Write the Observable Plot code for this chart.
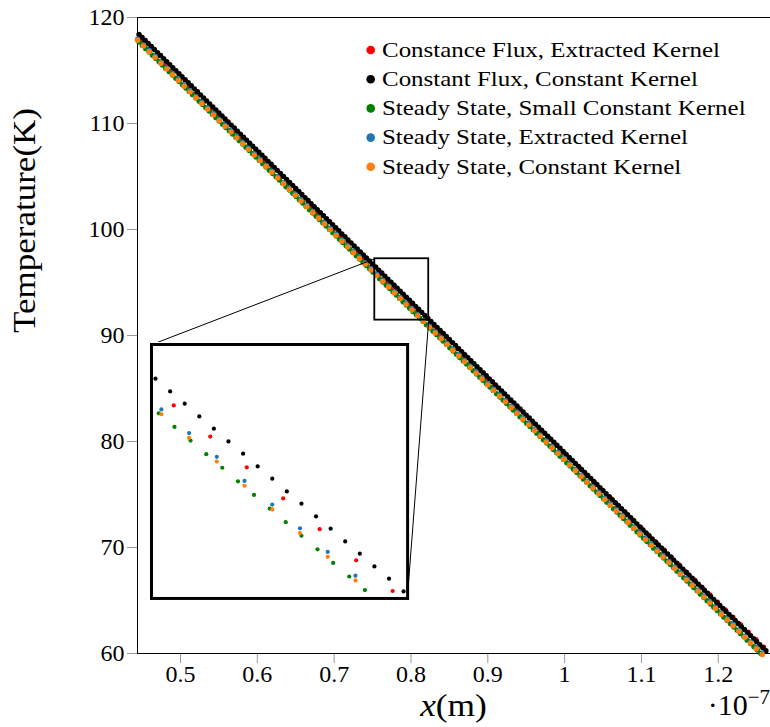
<!DOCTYPE html>
<html>
<head>
<meta charset="utf-8">
<script src="https://cdn.jsdelivr.net/npm/d3@7"></script>
<script src="https://cdn.jsdelivr.net/npm/@observablehq/plot@0.6"></script>
<style>
  html, body { margin: 0; padding: 0; background: white; }
  #wrap { position: relative; width: 770px; height: 727px; overflow: hidden; }
</style>
</head>
<body>
<div id="wrap"></div>
<script>
// ---------------- data (x in units of 1e-7 m, T in K) ----------------
const seriesNames = ["Constance Flux, Extracted Kernel", "Constant Flux, Constant Kernel",
  "Steady State, Small Constant Kernel", "Steady State, Extracted Kernel", "Steady State, Constant Kernel"];
const seriesColors = ["#ff0000", "#000000", "#008000", "#1f77b4", "#ff7f0e"];

const xTicks = [0.5, 0.6, 0.7, 0.8, 0.9, 1.0, 1.1, 1.2];
const xTickLabels = ["0.5", "0.6", "0.7", "0.8", "0.9", "1", "1.1", "1.2"];
const yTicks = [60, 70, 80, 90, 100, 110, 120];
const yTickLabels = ["60", "70", "80", "90", "100", "110", "120"];
const xDomain = [0.444, 1.268];
const yDomain = [60, 120];

// zoomed window and where the inset sits (main-chart data coordinates)
const zoomX = [0.7529, 0.8231];
const zoomT = [91.45, 97.24];
const insetBoxX = [0.4618, 0.7952];
const insetBoxT = [65.16, 89.12];

// Constance Flux, Extracted Kernel
const redX = [0.449,0.459,0.469,0.479,0.489,0.499,0.509,0.519,0.529,0.539,
0.549,0.559,0.569,0.579,0.589,0.599,0.609,0.619,0.629,0.639,
0.649,0.659,0.669,0.679,0.689,0.699,0.709,0.719,0.729,0.739,
0.749,0.759,0.769,0.779,0.789,0.799,0.809,0.819,0.829,0.839,
0.849,0.859,0.869,0.879,0.889,0.899,0.909,0.919,0.929,0.939,
0.949,0.959,0.969,0.979,0.989,0.999,1.009,1.019,1.029,1.039,
1.049,1.059,1.069,1.079,1.089,1.099,1.109,1.119,1.129,1.139,
1.149,1.159,1.169,1.179,1.189,1.199,1.209,1.219,1.229,1.239,
1.249,1.259];
const redT = [117.70,117.00,116.29,115.59,114.88,114.18,113.47,112.77,112.06,111.36,
110.65,109.95,109.24,108.54,107.83,107.13,106.42,105.72,105.01,104.31,
103.60,102.90,102.19,101.49,100.78,100.08,99.37,98.67,97.96,97.26,
96.55,95.85,95.14,94.44,93.73,93.03,92.32,91.62,90.91,90.21,
89.50,88.80,88.09,87.39,86.68,85.98,85.27,84.57,83.86,83.16,
82.45,81.75,81.04,80.34,79.63,78.93,78.22,77.52,76.81,76.11,
75.40,74.70,73.99,73.29,72.58,71.88,71.17,70.47,69.76,69.06,
68.35,67.65,66.94,66.24,65.53,64.83,64.12,63.42,62.71,62.01,
61.30,60.60];

// Constant Flux, Constant Kernel
const blackX = [0.446,0.450,0.454,0.458,0.462,0.466,0.470,0.474,0.478,0.482,0.486,0.490,0.494,0.498,0.502,0.506,0.510,0.514,0.518,0.522,
0.526,0.530,0.534,0.538,0.542,0.546,0.550,0.554,0.558,0.562,0.566,0.570,0.574,0.578,0.582,0.586,0.590,0.594,0.598,0.602,
0.606,0.610,0.614,0.618,0.622,0.626,0.630,0.634,0.638,0.642,0.646,0.650,0.654,0.658,0.662,0.666,0.670,0.674,0.678,0.682,
0.686,0.690,0.694,0.698,0.702,0.706,0.710,0.714,0.718,0.722,0.726,0.730,0.734,0.738,0.742,0.746,0.750,0.754,0.758,0.762,
0.766,0.770,0.774,0.778,0.782,0.786,0.790,0.794,0.798,0.802,0.806,0.810,0.814,0.818,0.822,0.826,0.830,0.834,0.838,0.842,
0.846,0.850,0.854,0.858,0.862,0.866,0.870,0.874,0.878,0.882,0.886,0.890,0.894,0.898,0.902,0.906,0.910,0.914,0.918,0.922,
0.926,0.930,0.934,0.938,0.942,0.946,0.950,0.954,0.958,0.962,0.966,0.970,0.974,0.978,0.982,0.986,0.990,0.994,0.998,1.002,
1.006,1.010,1.014,1.018,1.022,1.026,1.030,1.034,1.038,1.042,1.046,1.050,1.054,1.058,1.062,1.066,1.070,1.074,1.078,1.082,
1.086,1.090,1.094,1.098,1.102,1.106,1.110,1.114,1.118,1.122,1.126,1.130,1.134,1.138,1.142,1.146,1.150,1.154,1.158,1.162,
1.166,1.170,1.174,1.178,1.182,1.186,1.190,1.194,1.198,1.202,1.206,1.210,1.214,1.218,1.222,1.226,1.230,1.234,1.238,1.242,
1.246,1.250,1.254,1.258,1.262];
const blackT = [118.40,118.12,117.83,117.55,117.26,116.98,116.69,116.41,116.12,115.84,115.55,115.27,114.98,114.70,114.41,114.13,113.84,113.56,113.27,112.99,
112.70,112.42,112.13,111.85,111.56,111.28,110.99,110.71,110.42,110.14,109.85,109.57,109.28,109.00,108.71,108.43,108.14,107.86,107.57,107.29,
107.00,106.72,106.43,106.15,105.86,105.58,105.29,105.01,104.72,104.44,104.15,103.87,103.58,103.30,103.01,102.73,102.44,102.16,101.87,101.59,
101.30,101.02,100.73,100.45,100.16,99.88,99.59,99.31,99.02,98.74,98.45,98.17,97.88,97.60,97.31,97.03,96.74,96.46,96.17,95.89,
95.60,95.32,95.03,94.75,94.46,94.18,93.89,93.61,93.32,93.04,92.75,92.47,92.18,91.90,91.61,91.33,91.04,90.76,90.47,90.19,
89.90,89.62,89.33,89.05,88.76,88.48,88.19,87.91,87.62,87.34,87.05,86.77,86.48,86.20,85.91,85.63,85.34,85.06,84.77,84.49,
84.20,83.92,83.63,83.35,83.06,82.78,82.49,82.21,81.92,81.64,81.35,81.07,80.78,80.50,80.21,79.93,79.64,79.36,79.07,78.79,
78.50,78.22,77.93,77.65,77.36,77.08,76.79,76.51,76.22,75.94,75.65,75.37,75.08,74.80,74.51,74.23,73.94,73.66,73.37,73.09,
72.80,72.52,72.23,71.95,71.66,71.38,71.09,70.81,70.52,70.24,69.95,69.67,69.38,69.10,68.81,68.53,68.24,67.96,67.67,67.39,
67.10,66.82,66.53,66.25,65.96,65.68,65.39,65.11,64.82,64.54,64.25,63.97,63.68,63.40,63.11,62.83,62.54,62.26,61.97,61.69,
61.40,61.12,60.83,60.55,60.26];

// Steady State, Small Constant Kernel
const greenX = [0.4460,0.4504,0.4547,0.4591,0.4634,0.4678,0.4721,0.4765,0.4808,0.4852,0.4895,0.4939,0.4982,0.5026,0.5069,0.5113,0.5156,0.5200,0.5243,0.5287,
0.5330,0.5374,0.5417,0.5461,0.5504,0.5548,0.5591,0.5635,0.5678,0.5722,0.5765,0.5809,0.5852,0.5896,0.5939,0.5983,0.6026,0.6070,0.6113,0.6157,
0.6200,0.6244,0.6287,0.6331,0.6374,0.6418,0.6461,0.6505,0.6548,0.6592,0.6635,0.6679,0.6722,0.6766,0.6809,0.6853,0.6896,0.6940,0.6983,0.7027,
0.7070,0.7114,0.7157,0.7201,0.7244,0.7288,0.7331,0.7375,0.7418,0.7462,0.7505,0.7549,0.7592,0.7636,0.7679,0.7723,0.7766,0.7810,0.7853,0.7897,
0.7940,0.7984,0.8027,0.8071,0.8114,0.8158,0.8201,0.8245,0.8288,0.8332,0.8375,0.8419,0.8462,0.8506,0.8549,0.8593,0.8636,0.8680,0.8723,0.8767,
0.8810,0.8854,0.8897,0.8941,0.8984,0.9028,0.9071,0.9115,0.9158,0.9202,0.9245,0.9289,0.9332,0.9376,0.9419,0.9463,0.9506,0.9550,0.9593,0.9637,
0.9680,0.9724,0.9767,0.9811,0.9854,0.9898,0.9941,0.9985,1.0028,1.0072,1.0115,1.0159,1.0202,1.0246,1.0289,1.0333,1.0376,1.0420,1.0463,1.0507,
1.0550,1.0594,1.0637,1.0681,1.0724,1.0768,1.0811,1.0855,1.0898,1.0942,1.0985,1.1029,1.1072,1.1116,1.1159,1.1203,1.1246,1.1290,1.1333,1.1377,
1.1420,1.1464,1.1507,1.1551,1.1594,1.1638,1.1681,1.1725,1.1768,1.1812,1.1855,1.1899,1.1942,1.1986,1.2029,1.2073,1.2116,1.2160,1.2203,1.2247,
1.2290,1.2334,1.2377,1.2421,1.2464,1.2508,1.2551];
const greenT = [117.68,117.37,117.06,116.75,116.44,116.13,115.82,115.51,115.20,114.89,114.58,114.27,113.96,113.65,113.34,113.03,112.72,112.41,112.10,111.79,
111.48,111.17,110.86,110.55,110.24,109.93,109.62,109.31,109.00,108.69,108.38,108.07,107.76,107.45,107.14,106.83,106.52,106.21,105.90,105.59,
105.28,104.97,104.66,104.35,104.04,103.73,103.42,103.11,102.80,102.49,102.18,101.87,101.56,101.25,100.94,100.63,100.32,100.01,99.70,99.39,
99.08,98.77,98.46,98.15,97.84,97.53,97.22,96.91,96.60,96.29,95.98,95.67,95.36,95.05,94.74,94.43,94.12,93.81,93.50,93.19,
92.88,92.57,92.26,91.95,91.64,91.33,91.02,90.71,90.40,90.09,89.78,89.47,89.16,88.85,88.54,88.23,87.92,87.61,87.30,86.99,
86.68,86.37,86.06,85.75,85.44,85.13,84.82,84.51,84.20,83.89,83.58,83.27,82.96,82.65,82.34,82.03,81.72,81.41,81.10,80.79,
80.48,80.17,79.86,79.55,79.24,78.93,78.62,78.31,78.00,77.69,77.38,77.07,76.76,76.45,76.14,75.83,75.52,75.21,74.90,74.59,
74.28,73.97,73.66,73.35,73.04,72.73,72.42,72.11,71.80,71.49,71.18,70.87,70.56,70.25,69.94,69.63,69.32,69.01,68.70,68.39,
68.08,67.77,67.46,67.15,66.84,66.53,66.22,65.91,65.60,65.29,64.98,64.67,64.36,64.05,63.74,63.43,63.12,62.81,62.50,62.19,
61.88,61.57,61.26,60.95,60.64,60.33,60.02];

// Steady State, Extracted Kernel / Constant Kernel (same x grid)
const ssX = [0.4440,0.4516,0.4592,0.4668,0.4744,0.4820,0.4896,0.4972,0.5048,0.5124,0.5200,0.5276,0.5352,0.5428,0.5504,0.5580,0.5656,0.5732,0.5808,0.5884,
0.5960,0.6036,0.6112,0.6188,0.6264,0.6340,0.6416,0.6492,0.6568,0.6644,0.6720,0.6796,0.6872,0.6948,0.7024,0.7100,0.7176,0.7252,0.7328,0.7404,
0.7480,0.7556,0.7632,0.7708,0.7784,0.7860,0.7936,0.8012,0.8088,0.8164,0.8240,0.8316,0.8392,0.8468,0.8544,0.8620,0.8696,0.8772,0.8848,0.8924,
0.9000,0.9076,0.9152,0.9228,0.9304,0.9380,0.9456,0.9532,0.9608,0.9684,0.9760,0.9836,0.9912,0.9988,1.0064,1.0140,1.0216,1.0292,1.0368,1.0444,
1.0520,1.0596,1.0672,1.0748,1.0824,1.0900,1.0976,1.1052,1.1128,1.1204,1.1280,1.1356,1.1432,1.1508,1.1584,1.1660,1.1736,1.1812,1.1888,1.1964,
1.2040,1.2116,1.2192,1.2268,1.2344,1.2420,1.2496,1.2572];
const blueT = [117.96,117.42,116.88,116.34,115.79,115.25,114.71,114.17,113.63,113.09,112.54,112.00,111.46,110.92,110.38,109.84,109.30,108.75,108.21,107.67,
107.13,106.59,106.05,105.51,104.96,104.42,103.88,103.34,102.80,102.26,101.71,101.17,100.63,100.09,99.55,99.01,98.47,97.92,97.38,96.84,
96.30,95.76,95.22,94.68,94.13,93.59,93.05,92.51,91.97,91.43,90.88,90.34,89.80,89.26,88.72,88.18,87.64,87.09,86.55,86.01,
85.47,84.93,84.39,83.85,83.30,82.76,82.22,81.68,81.14,80.60,80.05,79.51,78.97,78.43,77.89,77.35,76.81,76.26,75.72,75.18,
74.64,74.10,73.56,73.02,72.47,71.93,71.39,70.85,70.31,69.77,69.22,68.68,68.14,67.60,67.06,66.52,65.98,65.43,64.89,64.35,
63.81,63.27,62.73,62.19,61.64,61.10,60.56,60.02];
const orangeT = [117.85,117.31,116.77,116.23,115.68,115.14,114.60,114.06,113.52,112.98,112.43,111.89,111.35,110.81,110.27,109.73,109.19,108.64,108.10,107.56,
107.02,106.48,105.94,105.40,104.85,104.31,103.77,103.23,102.69,102.15,101.60,101.06,100.52,99.98,99.44,98.90,98.36,97.81,97.27,96.73,
96.19,95.65,95.11,94.57,94.02,93.48,92.94,92.40,91.86,91.32,90.77,90.23,89.69,89.15,88.61,88.07,87.53,86.98,86.44,85.90,
85.36,84.82,84.28,83.74,83.19,82.65,82.11,81.57,81.03,80.49,79.94,79.40,78.86,78.32,77.78,77.24,76.70,76.15,75.61,75.07,
74.53,73.99,73.45,72.91,72.36,71.82,71.28,70.74,70.20,69.66,69.11,68.57,68.03,67.49,66.95,66.41,65.87,65.32,64.78,64.24,
63.70,63.16,62.62,62.08,61.53,60.99,60.45,59.91];

// ---------------- build ----------------
const toRows = (xs, ts) => xs.map((x, i) => ({x, T: ts[i]}));
const series = [
  toRows(redX, redT), toRows(blackX, blackT), toRows(greenX, greenT),
  toRows(ssX, blueT), toRows(ssX, orangeT)
];

const FONT = "'Liberation Serif', 'Times New Roman', serif";
const wrap = document.getElementById("wrap");

const dotMarks = (r, clip) => series.map((rows, i) =>
  Plot.dot(rows, {x: "x", y: "T", r, fill: seriesColors[i], clip}));

const main = Plot.plot({
  width: 770, height: 727,
  marginLeft: 137, marginRight: 0, marginTop: 17, marginBottom: 74,
  x: {domain: xDomain},
  y: {domain: yDomain},
  style: {fontFamily: FONT, background: "white", overflow: "visible"},
  marks: [
    Plot.axisX(xTicks, {tickSize: 10, tickPadding: 1, stroke: "#9a9a9a", fill: "black", fontSize: 24,
      fontFamily: FONT, tickFormat: d => xTickLabels[xTicks.indexOf(d)], label: null}),
    Plot.axisY(yTicks, {tickSize: 10, tickPadding: 3, stroke: "#9a9a9a", fill: "black", fontSize: 24,
      fontFamily: FONT, tickFormat: d => yTickLabels[yTicks.indexOf(d)], label: null}),
    Plot.ruleY(yDomain, {stroke: "black", strokeWidth: 1}),
    Plot.ruleX([xDomain[0]], {stroke: "black", strokeWidth: 1}),
    ...dotMarks(2.7, false),
    Plot.rect([{x1: zoomX[0], x2: zoomX[1], y1: zoomT[0], y2: zoomT[1]}],
      {x1: "x1", x2: "x2", y1: "y1", y2: "y2", fill: "none", stroke: "black", strokeWidth: 1.8}),
    Plot.link([
      {x1: zoomX[0], y1: zoomT[1], x2: insetBoxX[0], y2: insetBoxT[1]},
      {x1: zoomX[1], y1: zoomT[0], x2: insetBoxX[1], y2: insetBoxT[0]}
    ], {x1: "x1", y1: "y1", x2: "x2", y2: "y2", stroke: "black", strokeWidth: 1})
  ]
});
main.style.position = "absolute";
main.style.left = "0px";
main.style.top = "0px";
wrap.append(main);

// ---------------- inset ----------------
const sx = main.scale("x"), sy = main.scale("y");
const L = sx.apply(insetBoxX[0]), R = sx.apply(insetBoxX[1]);
const TOP = sy.apply(insetBoxT[1]), BOT = sy.apply(insetBoxT[0]);
const pad = 2;
const inset = Plot.plot({
  width: (R - L) + 2 * pad, height: (BOT - TOP) + 2 * pad,
  margin: pad,
  x: {domain: zoomX, axis: null},
  y: {domain: zoomT, axis: null},
  style: {background: "white", overflow: "visible"},
  marks: [
    ...dotMarks(2.1, true),
    Plot.frame({stroke: "black", strokeWidth: 3})
  ]
});
inset.style.position = "absolute";
inset.style.left = (L - pad) + "px";
inset.style.top = (TOP - pad) + "px";
wrap.append(inset);

// ---------------- legend & axis titles ----------------
const ov = d3.select(wrap).append("svg")
  .attr("width", 770).attr("height", 727)
  .style("position", "absolute").style("left", "0px").style("top", "0px")
  .style("pointer-events", "none")
  .style("font-family", FONT);

const legendX = 370.7, legendY0 = 50, legendStep = 29.2;
seriesNames.forEach((name, i) => {
  const cy = legendY0 + i * legendStep;
  ov.append("circle").attr("cx", legendX).attr("cy", cy).attr("r", 4.3).attr("fill", seriesColors[i]);
  ov.append("text")
    .attr("transform", `translate(382,${cy + 6.7}) scale(1.188,1)`)
    .attr("font-size", 21).attr("fill", "black")
    .text(name);
});

// x axis title
const xt = ov.append("text")
  .attr("transform", "translate(453.5,716) scale(1.14,1)")
  .attr("text-anchor", "middle").attr("font-size", 31).attr("fill", "black");
xt.append("tspan").attr("font-style", "italic").text("x");
xt.append("tspan").text("(m)");

// y axis title
ov.append("text")
  .attr("transform", "translate(35,333) rotate(-90) scale(1.13,1)")
  .attr("text-anchor", "start").attr("font-size", 31).attr("fill", "black")
  .text("Temperature(K)");

// scale factor label
const sc = ov.append("text")
  .attr("x", 770).attr("y", 715)
  .attr("text-anchor", "end").attr("font-size", 30).attr("fill", "black");
sc.append("tspan").text("\u00B710");
sc.append("tspan").attr("font-size", 21).attr("dy", -11).text("\u22127");
</script>
</body>
</html>
